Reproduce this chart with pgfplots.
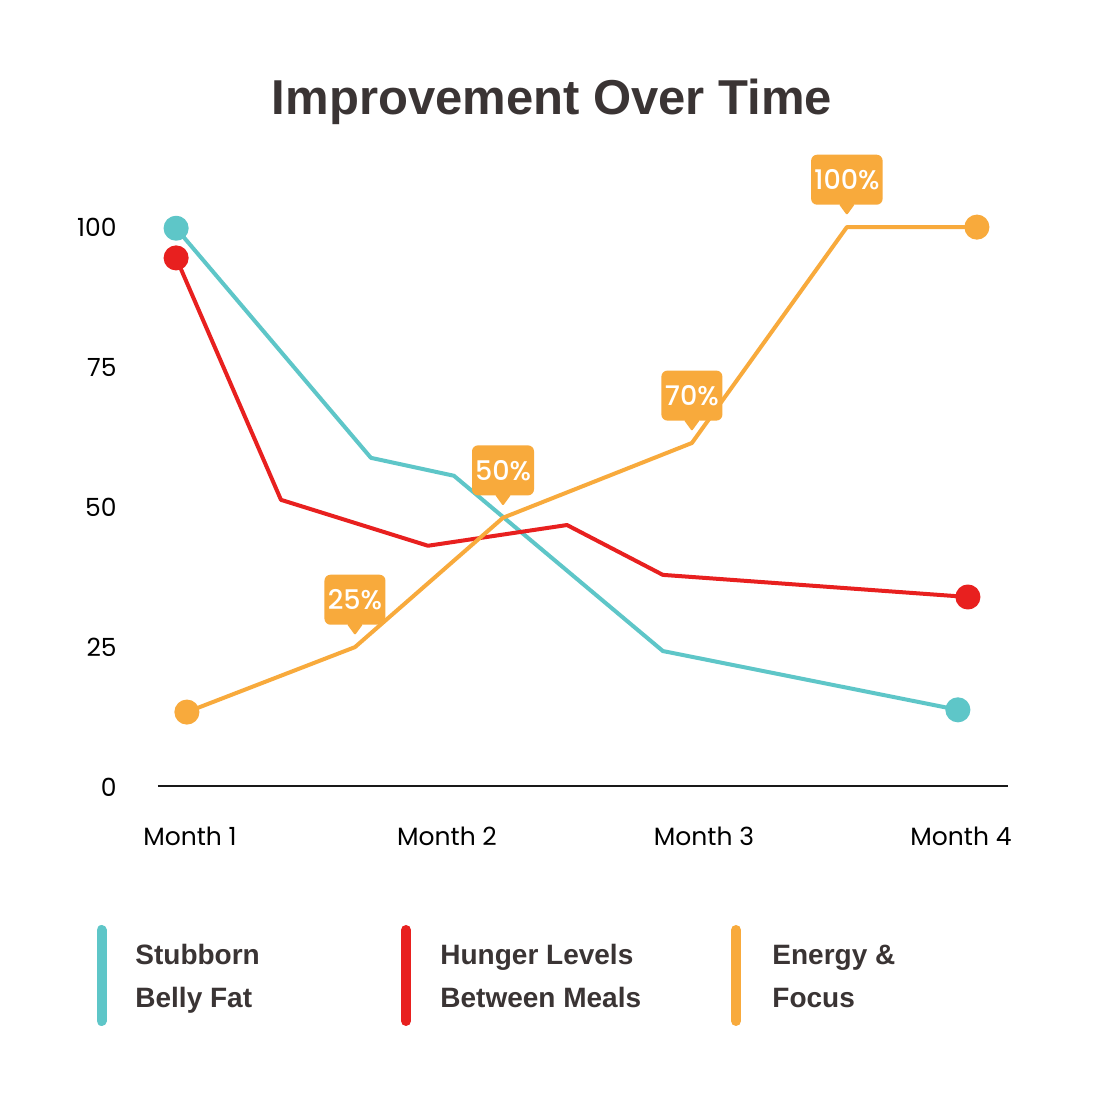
\documentclass[border=0pt]{standalone}
\usepackage{fontspec}
\usepackage{pgfplots}
\pgfplotsset{compat=1.18}
\setmainfont{Poppins}
\newfontfamily\headfont{Liberation Sans}
\newfontfamily\calloutfont{Poppins Medium}

\definecolor{cyanc}{HTML}{5EC6C8}
\definecolor{redc}{HTML}{E8201F}
\definecolor{orangec}{HTML}{F8AA3C}
\definecolor{ink}{HTML}{3A3434}

\begin{document}
\begin{tikzpicture}
\fill[white] (0,0) rectangle (552pt,552pt);
\begin{axis}[
  at={(79pt,159pt)}, anchor=south west,
  scale only axis, width=425pt, height=308pt,
  xmin=-0.1245, xmax=3.183, ymin=0, ymax=110,
  axis x line*=bottom, axis y line*=left,
  y axis line style={draw=none},
  x axis line style={draw=black!90, line width=1pt, -},
  xtick={0,1,2,3},
  xticklabels={Month 1,Month 2,Month 3,Month 4},
  ytick={0,25,50,75,100},
  major tick length=0pt,
  tick style={draw=none},
  tick label style={font=\fontsize{12.5}{15}\selectfont, text=black},
  xticklabel style={anchor=base, inner sep=0pt, yshift=-30pt},
  yticklabel style={anchor=base east, inner sep=0pt, xshift=-20.5pt, yshift=-5.5pt},
  /pgf/number format/assume math mode=true,
  clip=false,
]
% Stubborn Belly Fat
\addplot[cyanc, line width=2pt, line join=round, mark=*, mark size=5.25pt,
  mark indices={1,5}, mark options={solid, fill=cyanc, draw=none}]
  coordinates {(-0.054,99.6) (0.704,58.6) (1.027,55.4) (1.840,24.1) (2.988,13.6)};
% Hunger Levels Between Meals
\addplot[redc, line width=2pt, line join=round, mark=*, mark size=5.25pt,
  mark indices={1,6}, mark options={solid, fill=redc, draw=none}]
  coordinates {(-0.054,94.3) (0.354,51.1) (0.926,42.9) (1.467,46.6) (1.840,37.7) (3.027,33.75)};
% Energy & Focus
\addplot[orangec, line width=2pt, line join=round, mark=*, mark size=5.25pt,
  mark indices={1,6}, mark options={solid, fill=orangec, draw=none}]
  coordinates {(-0.012,13.2) (0.642,24.8) (1.218,47.9) (1.953,61.25) (2.556,99.8) (3.062,99.8)};
% percentage callouts on the Energy & Focus line: rounded box plus a small
% downward pointer drawn under its south anchor
\addplot[draw=none, mark=none, point meta=explicit symbolic, nodes near coords,
  every node near coord/.append style={rectangle, fill=orangec,
    rounded corners=3pt, text=white,
    font=\calloutfont\fontsize{13.5}{14}\selectfont,
    minimum width=30.5pt, minimum height=25pt, inner xsep=1.5pt, inner ysep=0pt,
    anchor=south, yshift=11pt,
    append after command={\pgfextra{\fill[orangec, rounded corners=0.6pt]
      ([xshift=-4pt,yshift=0.5pt]\tikzlastnode.south) --
      ([xshift=4pt,yshift=0.5pt]\tikzlastnode.south) --
      ([yshift=-5pt]\tikzlastnode.south) -- cycle;}}}]
  coordinates {(0.642,24.8) [25\%] (1.218,47.9) [50\%] (1.953,61.25) [70\%] (2.556,99.8) [100\%]};
\end{axis}

% title
\node[anchor=base, inner sep=0pt, text=ink,
  font=\headfont\bfseries\fontsize{24.5}{28}\selectfont] at (276pt,494.5pt) {Improvement Over Time};

% legend
\begin{scope}[line width=5pt, line cap=round]
  \draw[cyanc] (50.75pt,87pt) -- (50.75pt,41.5pt);
  \draw[redc] (203pt,87pt) -- (203pt,41.5pt);
  \draw[orangec] (368pt,87pt) -- (368pt,41.5pt);
\end{scope}
\begin{scope}[every node/.style={anchor=base west, inner sep=0pt, text=ink,
    font=\headfont\bfseries\fontsize{14}{16}\selectfont}]
  \node at (67.5pt,69.5pt) {Stubborn};
  \node at (67.5pt,48.5pt) {Belly Fat};
  \node at (220pt,69.5pt) {Hunger Levels};
  \node at (220pt,48.5pt) {Between Meals};
  \node at (386pt,69.5pt) {Energy \&};
  \node at (386pt,48.5pt) {Focus};
\end{scope}

\pgfresetboundingbox
\path[use as bounding box] (0,0) rectangle (552pt,552pt);
\end{tikzpicture}
\end{document}
